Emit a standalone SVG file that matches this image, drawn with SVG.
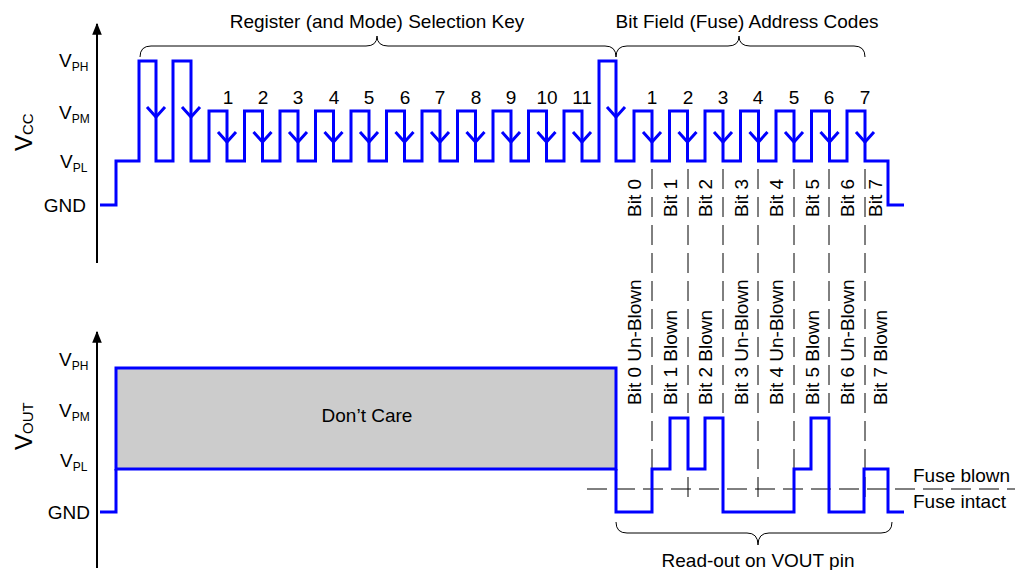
<svg xmlns="http://www.w3.org/2000/svg" width="1015" height="570" viewBox="0 0 1015 570">
<style>
text{font-family:"Liberation Sans",Arial,sans-serif;fill:#000}
.t{font-size:19px}
.s{font-size:12px}
.big{font-size:24px}
.bs{font-size:15px}
.wave{fill:none;stroke:#0000ff;stroke-width:3;stroke-linejoin:miter}
.chev{fill:none;stroke:#0000ff;stroke-width:3}
.axis{stroke:#000;stroke-width:2;fill:none}
.brace{fill:none;stroke:#000;stroke-width:1}
.dash{stroke:#000;stroke-width:1;stroke-dasharray:20 8;fill:none}
</style>
<defs>
<marker id="ah" viewBox="0 0 10 10" refX="9" refY="5" markerWidth="6" markerHeight="6" markerUnits="strokeWidth" orient="auto">
<path d="M0,1 L10,5 L0,9 z" fill="#000"/>
</marker>
<path id="chH" d="M-9,107 L0,117 L9,107"/>
<path id="chM" d="M-9,132 L0,142 L9,132"/>
</defs>

<g id="axes">
<line class="axis" x1="97" y1="263" x2="97" y2="24" marker-end="url(#ah)"/>
<line class="axis" x1="97" y1="568" x2="97" y2="332" marker-end="url(#ah)"/>
</g>

<g id="vcc-labels">
<text class="big" transform="translate(32,151) rotate(-90)">V<tspan class="bs" dy="1">CC</tspan></text>
<text class="t" x="59" y="67">V<tspan class="s" dy="4">PH</tspan></text>
<text class="t" x="59" y="119">V<tspan class="s" dy="4">PM</tspan></text>
<text class="t" x="60" y="168">V<tspan class="s" dy="4">PL</tspan></text>
<text class="t" x="86" y="212" text-anchor="end">GND</text>
</g>

<g id="vout-labels">
<text class="big" transform="translate(32,450) rotate(-90)">V<tspan class="bs" dy="1">OUT</tspan></text>
<text class="t" x="59" y="366">V<tspan class="s" dy="4">PH</tspan></text>
<text class="t" x="59" y="417">V<tspan class="s" dy="4">PM</tspan></text>
<text class="t" x="60" y="467">V<tspan class="s" dy="4">PL</tspan></text>
<text class="t" x="90" y="519" text-anchor="end">GND</text>
</g>

<g id="titles">
<text class="t" x="377" y="28" text-anchor="middle">Register (and Mode) Selection Key</text>
<text class="t" x="747" y="28" text-anchor="middle">Bit Field (Fuse) Address Codes</text>
<text class="t" x="758" y="567" text-anchor="middle">Read-out on VOUT pin</text>
</g>

<g id="braces">
<path class="brace" d="M140,57 Q140,46 151,46 L366,46 Q377,46 377,36 Q377,46 388,46 L605,46 Q616,46 616,57"/>
<path class="brace" d="M616,57 Q616,46 627,46 L728,46 Q739,46 739,36 Q739,46 750,46 L854,46 Q865,46 865,57"/>
<path class="brace" d="M616,522 Q616,533 627,533 L747,533 Q758,533 758,545 Q758,533 769,533 L881,533 Q892,533 892,522"/>
</g>

<g id="connectors">
<line class="dash" x1="652" y1="169" x2="652" y2="503"/>
<line class="dash" x1="688" y1="169" x2="688" y2="503"/>
<line class="dash" x1="723" y1="169" x2="723" y2="503"/>
<line class="dash" x1="758" y1="169" x2="758" y2="503"/>
<line class="dash" x1="794" y1="169" x2="794" y2="503"/>
<line class="dash" x1="829" y1="169" x2="829" y2="503"/>
<line class="dash" x1="865" y1="169" x2="865" y2="503"/>
<line class="dash" x1="587" y1="489" x2="1015" y2="489"/>
</g>

<g id="vcc-wave">
<path class="wave" d="M100,205 H116 V161 H139 V61 H156 V161 H173 V61 H191 V161
H209 V111 H227 V161 H244.5 V111 H262.5 V161 H280 V111 H298 V161 H315.5 V111 H333.5 V161
H351 V111 H369 V161 H386.5 V111 H404.5 V161 H422 V111 H440 V161 H457.5 V111 H475.5 V161
H493 V111 H511 V161 H528.5 V111 H546.5 V161 H564 V111 H582 V161
H599 V61 H616 V161
H634 V111 H652 V161 H669.5 V111 H687.5 V161 H705 V111 H723 V161 H740.5 V111 H758.5 V161
H776 V111 H794 V161 H811.5 V111 H829.5 V161 H847 V111 H865 V161 H888 V205 H904"/>
<g class="chev">
<use href="#chH" x="156"/><use href="#chH" x="191"/><use href="#chH" x="616"/>
<use href="#chM" x="227"/><use href="#chM" x="262.5"/><use href="#chM" x="298"/><use href="#chM" x="333.5"/>
<use href="#chM" x="369"/><use href="#chM" x="404.5"/><use href="#chM" x="440"/><use href="#chM" x="475.5"/>
<use href="#chM" x="511"/><use href="#chM" x="546.5"/><use href="#chM" x="582"/>
<use href="#chM" x="652"/><use href="#chM" x="687.5"/><use href="#chM" x="723"/><use href="#chM" x="758.5"/>
<use href="#chM" x="794"/><use href="#chM" x="829.5"/><use href="#chM" x="865"/>
</g>
</g>

<g id="pulse-numbers">
<text class="t" x="228" y="104" text-anchor="middle">1</text>
<text class="t" x="263" y="104" text-anchor="middle">2</text>
<text class="t" x="298" y="104" text-anchor="middle">3</text>
<text class="t" x="334" y="104" text-anchor="middle">4</text>
<text class="t" x="369" y="104" text-anchor="middle">5</text>
<text class="t" x="405" y="104" text-anchor="middle">6</text>
<text class="t" x="440" y="104" text-anchor="middle">7</text>
<text class="t" x="476" y="104" text-anchor="middle">8</text>
<text class="t" x="511" y="104" text-anchor="middle">9</text>
<text class="t" x="547" y="104" text-anchor="middle">10</text>
<text class="t" x="582" y="104" text-anchor="middle">11</text>
<text class="t" x="652" y="104" text-anchor="middle">1</text>
<text class="t" x="688" y="104" text-anchor="middle">2</text>
<text class="t" x="723" y="104" text-anchor="middle">3</text>
<text class="t" x="758" y="104" text-anchor="middle">4</text>
<text class="t" x="794" y="104" text-anchor="middle">5</text>
<text class="t" x="829" y="104" text-anchor="middle">6</text>
<text class="t" x="865" y="104" text-anchor="middle">7</text>
</g>

<g id="bit-labels">
<text class="t" transform="translate(641,217) rotate(-90)">Bit 0</text>
<text class="t" transform="translate(677,217) rotate(-90)">Bit 1</text>
<text class="t" transform="translate(712,217) rotate(-90)">Bit 2</text>
<text class="t" transform="translate(748,217) rotate(-90)">Bit 3</text>
<text class="t" transform="translate(783,217) rotate(-90)">Bit 4</text>
<text class="t" transform="translate(819,217) rotate(-90)">Bit 5</text>
<text class="t" transform="translate(854,217) rotate(-90)">Bit 6</text>
<text class="t" transform="translate(882,217) rotate(-90)">Bit 7</text>
</g>

<g id="readout-labels">
<text class="t" transform="translate(641,405) rotate(-90)">Bit 0 Un-Blown</text>
<text class="t" transform="translate(677,405) rotate(-90)">Bit 1 Blown</text>
<text class="t" transform="translate(712,405) rotate(-90)">Bit 2 Blown</text>
<text class="t" transform="translate(748,405) rotate(-90)">Bit 3 Un-Blown</text>
<text class="t" transform="translate(783,405) rotate(-90)">Bit 4 Un-Blown</text>
<text class="t" transform="translate(819,405) rotate(-90)">Bit 5 Blown</text>
<text class="t" transform="translate(854,405) rotate(-90)">Bit 6 Un-Blown</text>
<text class="t" transform="translate(887,405) rotate(-90)">Bit 7 Blown</text>
</g>

<g id="dont-care">
<rect x="116" y="368" width="500" height="101" fill="#cccccc" stroke="#0000ff" stroke-width="3"/>
<text class="t" x="367" y="422" text-anchor="middle">Don’t Care</text>
</g>

<g id="vout-wave">
<path class="wave" d="M100,512 H116 V469 M616,469 V512 H652 V469 H670 V418 H688 V469 H705 V418 H723 V512 H794 V469 H811 V418 H829 V512 H864 V469 H888 V512 H904"/>
</g>

<g id="fuse-labels">
<text class="t" x="913" y="482">Fuse blown</text>
<text class="t" x="913" y="508">Fuse intact</text>
</g>
</svg>
